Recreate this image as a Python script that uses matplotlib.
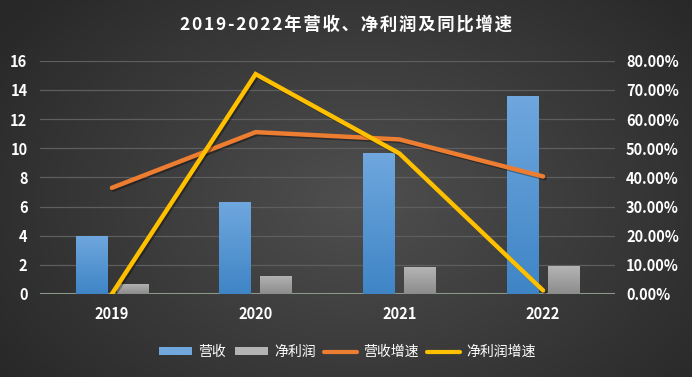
import matplotlib
matplotlib.use("Agg")
import matplotlib.pyplot as plt
import matplotlib.patheffects as pe
from matplotlib.patches import Patch
from matplotlib.lines import Line2D
from matplotlib.ticker import FuncFormatter
import numpy as np

plt.rcParams['font.family'] = ['Noto Sans CJK SC', 'DejaVu Sans']

# data
years = ['2019', '2020', '2021', '2022']
revenue = [4.0, 6.3, 9.65, 13.6]
net_profit = [0.7, 1.25, 1.85, 1.9]
revenue_growth = [0.364, 0.555, 0.53, 0.403]
profit_growth = [0.0, 0.754, 0.482, 0.012]
title = '2019-2022年营收、净利润及同比增速'

BLUE_TOP, BLUE_BOT = '#6fa7de', '#3f85c6'
GRAY_TOP, GRAY_BOT = '#b4b4b4', '#8c8c8c'
ORANGE = '#ed7d31'
YELLOW = '#ffc000'
TXT = 'white'

fig = plt.figure(figsize=(6.92, 3.77), dpi=100)

# radial background
bg = fig.add_axes([0, 0, 1, 1], zorder=-10)
yy, xx = np.mgrid[0:377, 0:692]
r = np.sqrt(((xx - 360) / 430.0) ** 2 + ((yy - 200) / 300.0) ** 2)
shade = np.clip(0.31 - 0.15 * r, 0.16, 0.31)
bg.imshow(np.dstack([shade] * 3), extent=[0, 1, 0, 1], aspect='auto')
bg.axis('off')

ax = fig.add_axes([0.0578, 0.2202, 0.8309, 0.6188])
ax.patch.set_alpha(0)
ax2 = ax.twinx()

x = np.arange(len(years))
w = 0.22
off = 0.143


def gradient_bars(xs, vals, top, bot):
    bars = ax.bar(xs, vals, width=w, color='none', zorder=3)
    cmap = matplotlib.colors.LinearSegmentedColormap.from_list('g', [bot, top])
    grad = np.linspace(0, 1, 100).reshape(-1, 1)
    for b in bars:
        x0, y0 = b.get_x(), b.get_y()
        im = ax.imshow(grad, cmap=cmap, origin='lower', aspect='auto',
                       extent=[x0, x0 + b.get_width(), y0, y0 + b.get_height()],
                       zorder=3)
        im.set_clip_path(b)
    return bars


gradient_bars(x - off, revenue, BLUE_TOP, BLUE_BOT)
gradient_bars(x + off, net_profit, GRAY_TOP, GRAY_BOT)

ax.set_xlim(-0.5, 3.5)
ax.set_ylim(0, 16)
ax.set_yticks(range(0, 17, 2))
ax.set_xticks(x)
ax.set_xticklabels(years)
ax.grid(axis='y', color='#5e5e5e', linewidth=0.9, zorder=0)
ax.set_axisbelow(True)

shadow = [pe.SimpleLineShadow(offset=(1.2, -1.2), shadow_color='black', alpha=0.35), pe.Normal()]
ax2.plot(x, revenue_growth, color=ORANGE, linewidth=3.2, solid_capstyle='round',
         solid_joinstyle='round', path_effects=shadow, zorder=4)
ax2.plot(x, profit_growth, color=YELLOW, linewidth=3.2, solid_capstyle='round',
         solid_joinstyle='miter', path_effects=shadow, zorder=5)
ax2.set_ylim(0, 0.8)
ax2.set_yticks(np.arange(0, 0.81, 0.1))
ax2.yaxis.set_major_formatter(FuncFormatter(lambda v, p: f'{v * 100:.2f}%'))

for a in (ax, ax2):
    for s in a.spines.values():
        s.set_visible(False)
    a.tick_params(length=0, colors=TXT, labelsize=10.5)
    for lbl in a.get_yticklabels() + a.get_xticklabels():
        lbl.set_fontweight('bold')
ax.tick_params(axis='y', pad=9)
ax.tick_params(axis='x', pad=9)
ax2.tick_params(axis='y', pad=8)
ax.axhline(0, color='#8a9a88', linewidth=2.2, zorder=2)

fig.text(0.5, 0.936, '\u200a'.join(title), ha='center', va='center',
         color=TXT, fontsize=12.5, fontweight='bold')

handles = [Patch(facecolor=BLUE_TOP, edgecolor='none'),
           Patch(facecolor=GRAY_TOP, edgecolor='none'),
           Line2D([], [], color=ORANGE, linewidth=3, solid_capstyle='round'),
           Line2D([], [], color=YELLOW, linewidth=3, solid_capstyle='round')]
labels = ['营收', '净利润', '营收增速', '净利润增速']
leg = fig.legend(handles, labels, loc='center', bbox_to_anchor=(0.502, 0.066), ncol=4,
                 frameon=False, fontsize=10, handlelength=2.4, handleheight=0.5,
                 handletextpad=0.43, columnspacing=0.6)
for t in leg.get_texts():
    t.set_color(TXT)

fig.savefig('out.png', dpi=100)
